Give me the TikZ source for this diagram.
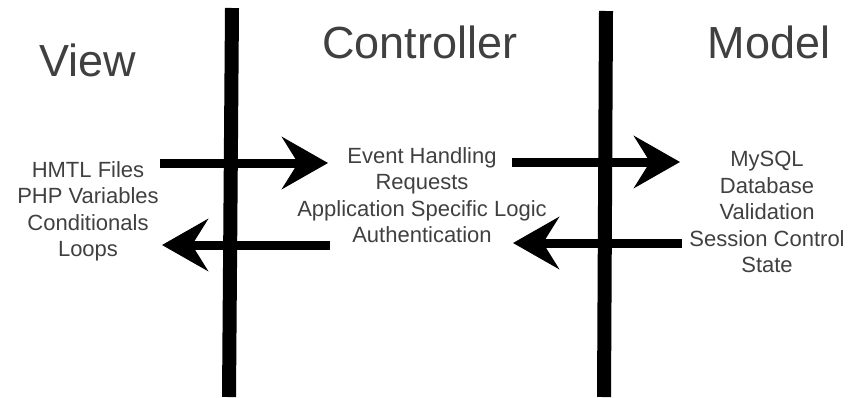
\documentclass[tikz,border=0pt]{standalone}
\usepackage{fontspec}
\setmainfont{Liberation Sans}
\usetikzlibrary{arrows.meta}
\definecolor{textgray}{HTML}{404040}
\begin{document}
\begin{tikzpicture}[x=1pt, y=-1pt,
    title/.style={text=textgray, inner sep=0pt, anchor=base, font=\fontsize{45}{54}\selectfont},
    items/.style={text=textgray, inner sep=0pt, anchor=north, align=center, font=\fontsize{22}{26.5}\selectfont},
    bar/.style={line width=14pt},
    flow/.style={line width=9pt, -{Stealth[length=46pt, width=52pt, inset=16pt]}}]
    \useasboundingbox (0,0) rectangle (850,397);
    % columns
    \coordinate (b1t) at (232,8);
    \coordinate (b1b) at (229,397);
    \coordinate (b2t) at (606,11);
    \coordinate (b2b) at (604,397);
    \foreach \from/\to in {b1t/b1b, b2t/b2b}
        \draw[bar] (\from) -- (\to);
    % headings
    \node[title] (view) at (88,76) {View};
    \node[title] (ctrl) at (420,58) {Controller};
    \node[title] (model) at (769,58) {Model};
    % contents
    \node[items] (viewlist) at (88,161) {HMTL Files\\PHP Variables\\Conditionals\\Loops};
    \node[items] (ctrllist) at (422,147) {Event Handling\\Requests\\Application Specific Logic\\Authentication};
    \node[items] (modellist) at (767,151) {MySQL\\Database\\Validation\\Session Control\\State};
    % requests and responses
    \coordinate (v1) at (160,163);
    \coordinate (c1) at (328,163);
    \coordinate (c2) at (512,162);
    \coordinate (m2) at (680,162);
    \coordinate (c3) at (330,245);
    \coordinate (v3) at (162,245);
    \coordinate (m4) at (682,243);
    \coordinate (c4) at (513,243);
    \foreach \from/\to in {v1/c1, c2/m2, c3/v3, m4/c4}
        \draw[flow] (\from) -- (\to);
\end{tikzpicture}
\end{document}
